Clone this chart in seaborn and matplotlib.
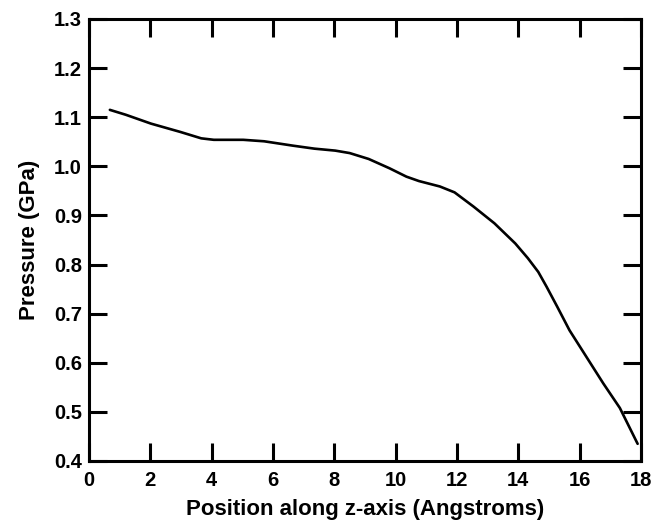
import matplotlib
matplotlib.use("Agg")
import matplotlib.pyplot as plt
import seaborn as sns
import pandas as pd

position = [0.68, 1.2, 2.02, 2.98, 3.66, 4.07, 5.03, 5.71, 6.66, 7.35, 8.03, 8.5,
            9.12, 9.8, 10.35, 10.76, 11.44, 11.92, 12.54, 13.22, 13.9, 14.31,
            14.65, 14.92, 15.27, 15.67, 16.22, 16.77, 17.31, 17.89]
pressure = [1.115, 1.105, 1.087, 1.070, 1.057, 1.054, 1.054, 1.051, 1.042, 1.036,
            1.032, 1.027, 1.015, 0.996, 0.979, 0.970, 0.959, 0.947, 0.918, 0.884,
            0.843, 0.813, 0.785, 0.755, 0.714, 0.666, 0.612, 0.558, 0.508, 0.435]
x_ticks = [0, 2, 4, 6, 8, 10, 12, 14, 16, 18]
y_ticks = [0.4, 0.5, 0.6, 0.7, 0.8, 0.9, 1.0, 1.1, 1.2, 1.3]

sns.set_style("ticks")
plt.rcParams['font.family'] = ['Liberation Sans', 'DejaVu Sans']
plt.rcParams['font.weight'] = 'bold'
plt.rcParams['text.color'] = 'black'
plt.rcParams['axes.labelcolor'] = 'black'

df = pd.DataFrame({"x": position, "y": pressure})

fig = plt.figure(figsize=(6.55, 5.23), dpi=100)
ax = fig.add_axes([89/655, 1 - 461/523, (641-89)/655, (461-19)/523])
sns.lineplot(data=df, x="x", y="y", ax=ax, color="black", linewidth=1.9)

ax.set_xlim(0, 18)
ax.set_ylim(0.4, 1.3)
ax.set_xticks(x_ticks)
ax.set_xticklabels([str(t) for t in x_ticks])
ax.set_yticks(y_ticks)
ax.set_yticklabels([f"{t:.1f}" for t in y_ticks])
for s in ax.spines.values():
    s.set_visible(True)
    s.set_linewidth(2.2)
    s.set_color("black")
ax.tick_params(direction="in", length=13, width=2.2, top=True, right=True,
               labelsize=14.5, colors="black")
ax.tick_params(axis="x", pad=7)
ax.tick_params(axis="y", pad=5)
for lbl in ax.get_xticklabels() + ax.get_yticklabels():
    lbl.set_fontweight("bold")
ax.set_xlabel("Position along z-axis (Angstroms)", fontsize=16, fontweight="bold",
              labelpad=7, color="black")
ax.set_ylabel("Pressure (GPa)", fontsize=16, fontweight="bold", labelpad=10, color="black")

fig.savefig("out.png", dpi=100)
